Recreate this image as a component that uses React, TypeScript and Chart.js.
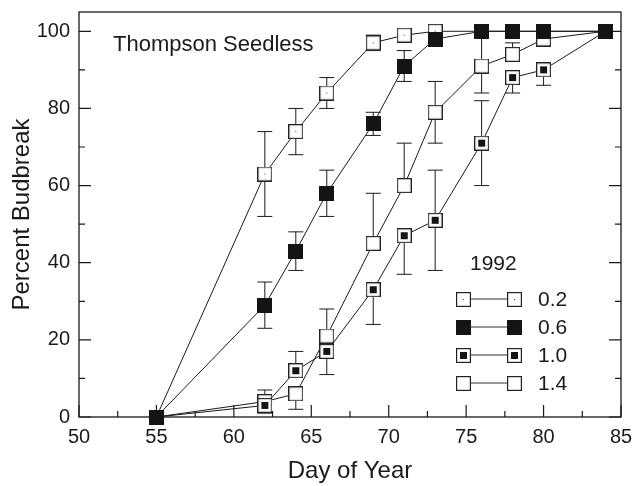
import { useEffect, useRef } from "react";
import { Chart, registerables } from "chart.js";

Chart.register(...registerables);

const FONT = "'Liberation Sans', Arial, Helvetica, sans-serif";

// ---- data ----
const days = [55, 62, 64, 66, 69, 71, 73, 76, 78, 80, 84];
const rate02 = [0, 63, 74, 84, 97, 99, 100, 100, 100, 100, 100];
const rate06 = [0, 29, 43, 58, 76, 91, 98, 100, 100, 100, 100];
const rate10 = [0, 3, 12, 17, 33, 47, 51, 71, 88, 90, 100];
const rate14 = [0, 4, 6, 21, 45, 60, 79, 91, 94, 98, 100];

// error bar bounds (null = not drawn)
const hi02 = [null, 74, 80, 88, 99, null, null, null, null, null, null];
const lo02 = [null, 52, 68, 80, 95, null, null, null, null, null, null];
const hi06 = [null, 35, 48, 64, 79, 95, null, null, null, null, null];
const lo06 = [null, 23, 38, 52, 73, 87, null, null, null, null, null];
const hi10 = [null, null, 17, null, null, null, 64, 82, null, null, null];
const lo10 = [null, 1, null, 11, 24, 37, 38, 60, 84, 86, null];
const hi14 = [null, 7, null, 28, 58, 71, 87, 99, 97, null, null];
const lo14 = [null, null, 2, null, null, null, 71, 84, null, null, null];

const seriesLabels = ["0.2", "0.6", "1.0", "1.4"];
const legendTitle = "1992";
const chartNote = "Thompson Seedless";
const xTickVals = [50, 55, 60, 65, 70, 75, 80, 85];
const yTickVals = [0, 20, 40, 60, 80, 100];
const xTitle = "Day of Year";
const yTitle = "Percent Budbreak";

type Kind = "dot" | "filled" | "center" | "open";

function makeMarker(kind: Kind): HTMLCanvasElement {
  const s = 15;
  const c = document.createElement("canvas");
  c.width = s;
  c.height = s;
  const g = c.getContext("2d")!;
  if (kind === "filled") {
    g.fillStyle = "#141414";
    g.fillRect(0, 0, s, s);
    return c;
  }
  g.fillStyle = "#ffffff";
  g.fillRect(0, 0, s, s);
  g.strokeStyle = "#222";
  g.lineWidth = 1.2;
  g.strokeRect(0.6, 0.6, s - 1.2, s - 1.2);
  if (kind === "dot") {
    g.fillStyle = "#444";
    g.fillRect(7, 7, 1, 1);
  } else if (kind === "center") {
    g.fillStyle = "#141414";
    g.fillRect(4, 4, 7, 7);
  }
  return c;
}

function zeroPad(s: any) {
  s.paddingTop = 0;
  s.paddingBottom = 0;
  s.paddingLeft = 0;
  s.paddingRight = 0;
}

export default function App() {
  const ref = useRef<HTMLCanvasElement>(null);

  useEffect(() => {
    const markers = {
      dot: makeMarker("dot"),
      filled: makeMarker("filled"),
      center: makeMarker("center"),
      open: makeMarker("open"),
    };
    const kinds: Kind[] = ["dot", "filled", "center", "open"];
    const rates = [rate02, rate06, rate10, rate14];
    const his = [hi02, hi06, hi10, hi14];
    const los = [lo02, lo06, lo10, lo14];
    const orders = [3, 0, 1, 2];

    const datasets = rates.map((r, i) => ({
      label: seriesLabels[i],
      data: days.map((d, j) => ({ x: d, y: r[j] })),
      borderColor: "#1a1a1a",
      borderWidth: 1,
      pointStyle: markers[kinds[i]],
      pointRadius: 7.5,
      pointHoverRadius: 7.5,
      tension: 0,
      clip: false as any,
      order: orders[i],
    }));

    const ink = "#1a1a1a";

    const errorBars = {
      id: "errorBars",
      beforeDatasetsDraw(chart: any) {
        const ctx = chart.ctx;
        const xs = chart.scales.x;
        const ys = chart.scales.y;
        ctx.save();
        ctx.strokeStyle = ink;
        ctx.lineWidth = 1;
        const cap = 7.5;
        rates.forEach((r, i) => {
          days.forEach((d, j) => {
            const px = xs.getPixelForValue(d);
            const py = ys.getPixelForValue(r[j]);
            [his[i][j], los[i][j]].forEach((b) => {
              if (b === null || b === undefined) return;
              const pb = ys.getPixelForValue(b);
              ctx.beginPath();
              ctx.moveTo(px, py);
              ctx.lineTo(px, pb);
              ctx.moveTo(px - cap, pb);
              ctx.lineTo(px + cap, pb);
              ctx.stroke();
            });
          });
        });
        ctx.restore();
      },
    };

    const frame = {
      id: "frame",
      beforeDatasetsDraw(chart: any) {
        const ctx = chart.ctx;
        const { left, right, top, bottom } = chart.chartArea;
        const xs = chart.scales.x;
        const ys = chart.scales.y;
        ctx.save();
        ctx.strokeStyle = ink;
        ctx.lineWidth = 1.3;
        ctx.strokeRect(left, top, right - left, bottom - top);
        ctx.lineWidth = 1.2;
        ctx.beginPath();
        const major = 12;
        const minor = 6;
        xTickVals.forEach((v, k) => {
          const px = xs.getPixelForValue(v);
          ctx.moveTo(px, bottom);
          ctx.lineTo(px, bottom - major);
          if (k < xTickVals.length - 1) {
            const m = xs.getPixelForValue((v + xTickVals[k + 1]) / 2);
            ctx.moveTo(m, bottom);
            ctx.lineTo(m, bottom - minor);
          }
        });
        yTickVals.forEach((v, k) => {
          const py = ys.getPixelForValue(v);
          ctx.moveTo(left, py);
          ctx.lineTo(left + major, py);
          ctx.moveTo(right, py);
          ctx.lineTo(right - major, py);
          if (k < yTickVals.length - 1) {
            const m = ys.getPixelForValue((v + yTickVals[k + 1]) / 2);
            ctx.moveTo(left, m);
            ctx.lineTo(left + minor, m);
            ctx.moveTo(right, m);
            ctx.lineTo(right - minor, m);
          }
        });
        ctx.stroke();
        ctx.restore();
      },
    };

    const annotations = {
      id: "annotations",
      afterDraw(chart: any) {
        const ctx = chart.ctx;
        ctx.save();
        ctx.fillStyle = ink;
        ctx.textBaseline = "alphabetic";
        ctx.textAlign = "left";
        ctx.font = `22px ${FONT}`;
        ctx.fillText(chartNote, 113, 51);

        ctx.font = `21px ${FONT}`;
        ctx.textBaseline = "middle";
        ctx.fillText(legendTitle, 470, 264);
        const rowsY = [299, 327, 355, 383];
        const m1 = 463;
        const m2 = 514;
        kinds.forEach((k, i) => {
          const y = rowsY[i];
          ctx.strokeStyle = "#333";
          ctx.lineWidth = 1;
          ctx.beginPath();
          ctx.moveTo(m1, y);
          ctx.lineTo(m2, y);
          ctx.stroke();
          const img = markers[k];
          ctx.drawImage(img, Math.round(m1 - 7.5), Math.round(y - 7.5));
          ctx.drawImage(img, Math.round(m2 - 7.5), Math.round(y - 7.5));
          ctx.fillStyle = ink;
          ctx.fillText(seriesLabels[i], 538, y + 1);
        });
        ctx.restore();
      },
    };

    const chart = new Chart(ref.current!, {
      type: "line",
      data: { datasets: datasets as any },
      options: {
        animation: false,
        responsive: false,
        devicePixelRatio: 1,
        events: [],
        layout: { padding: { top: 12, left: 0, right: 0, bottom: 0 } },
        plugins: { legend: { display: false }, tooltip: { enabled: false } },
        scales: {
          x: {
            type: "linear",
            min: 50,
            max: 85,
            position: "bottom",
            afterFit: (s: any) => {
              s.height = 69;
              zeroPad(s);
            },
            afterBuildTicks: (s: any) => {
              s.ticks = xTickVals.map((v) => ({ value: v }));
            },
            grid: { display: false, drawTicks: false },
            border: { display: false },
            ticks: {
              padding: 8,
              maxRotation: 0,
              autoSkip: false,
              color: ink,
              font: { family: FONT, size: 20 },
            },
            title: {
              display: true,
              text: xTitle,
              color: ink,
              font: { family: FONT, size: 24 },
              padding: { top: 0, bottom: 0 },
            },
          },
          y: {
            type: "linear",
            min: 0,
            max: 105,
            position: "left",
            afterFit: (s: any) => {
              s.width = 79;
              zeroPad(s);
            },
            afterBuildTicks: (s: any) => {
              s.ticks = yTickVals.map((v) => ({ value: v }));
            },
            grid: { display: false, drawTicks: false },
            border: { display: false },
            ticks: {
              padding: 9,
              color: ink,
              font: { family: FONT, size: 20 },
            },
            title: {
              display: true,
              text: yTitle,
              color: ink,
              font: { family: FONT, size: 24 },
              padding: { top: 8, bottom: 0 },
            },
          },
          y2: {
            type: "linear",
            min: 0,
            max: 105,
            position: "right",
            display: true,
            afterFit: (s: any) => {
              s.width = 13;
              zeroPad(s);
            },
            grid: { display: false, drawTicks: false },
            border: { display: false },
            ticks: { display: false },
          },
        },
      } as any,
      plugins: [frame, errorBars, annotations],
    });
    return () => chart.destroy();
  }, []);

  return (
    <div
      style={{
        position: "fixed",
        left: 0,
        top: 0,
        width: 634,
        height: 486,
        background: "#ffffff",
      }}
    >
      <canvas ref={ref} width={634} height={486} style={{ display: "block" }} />
    </div>
  );
}
